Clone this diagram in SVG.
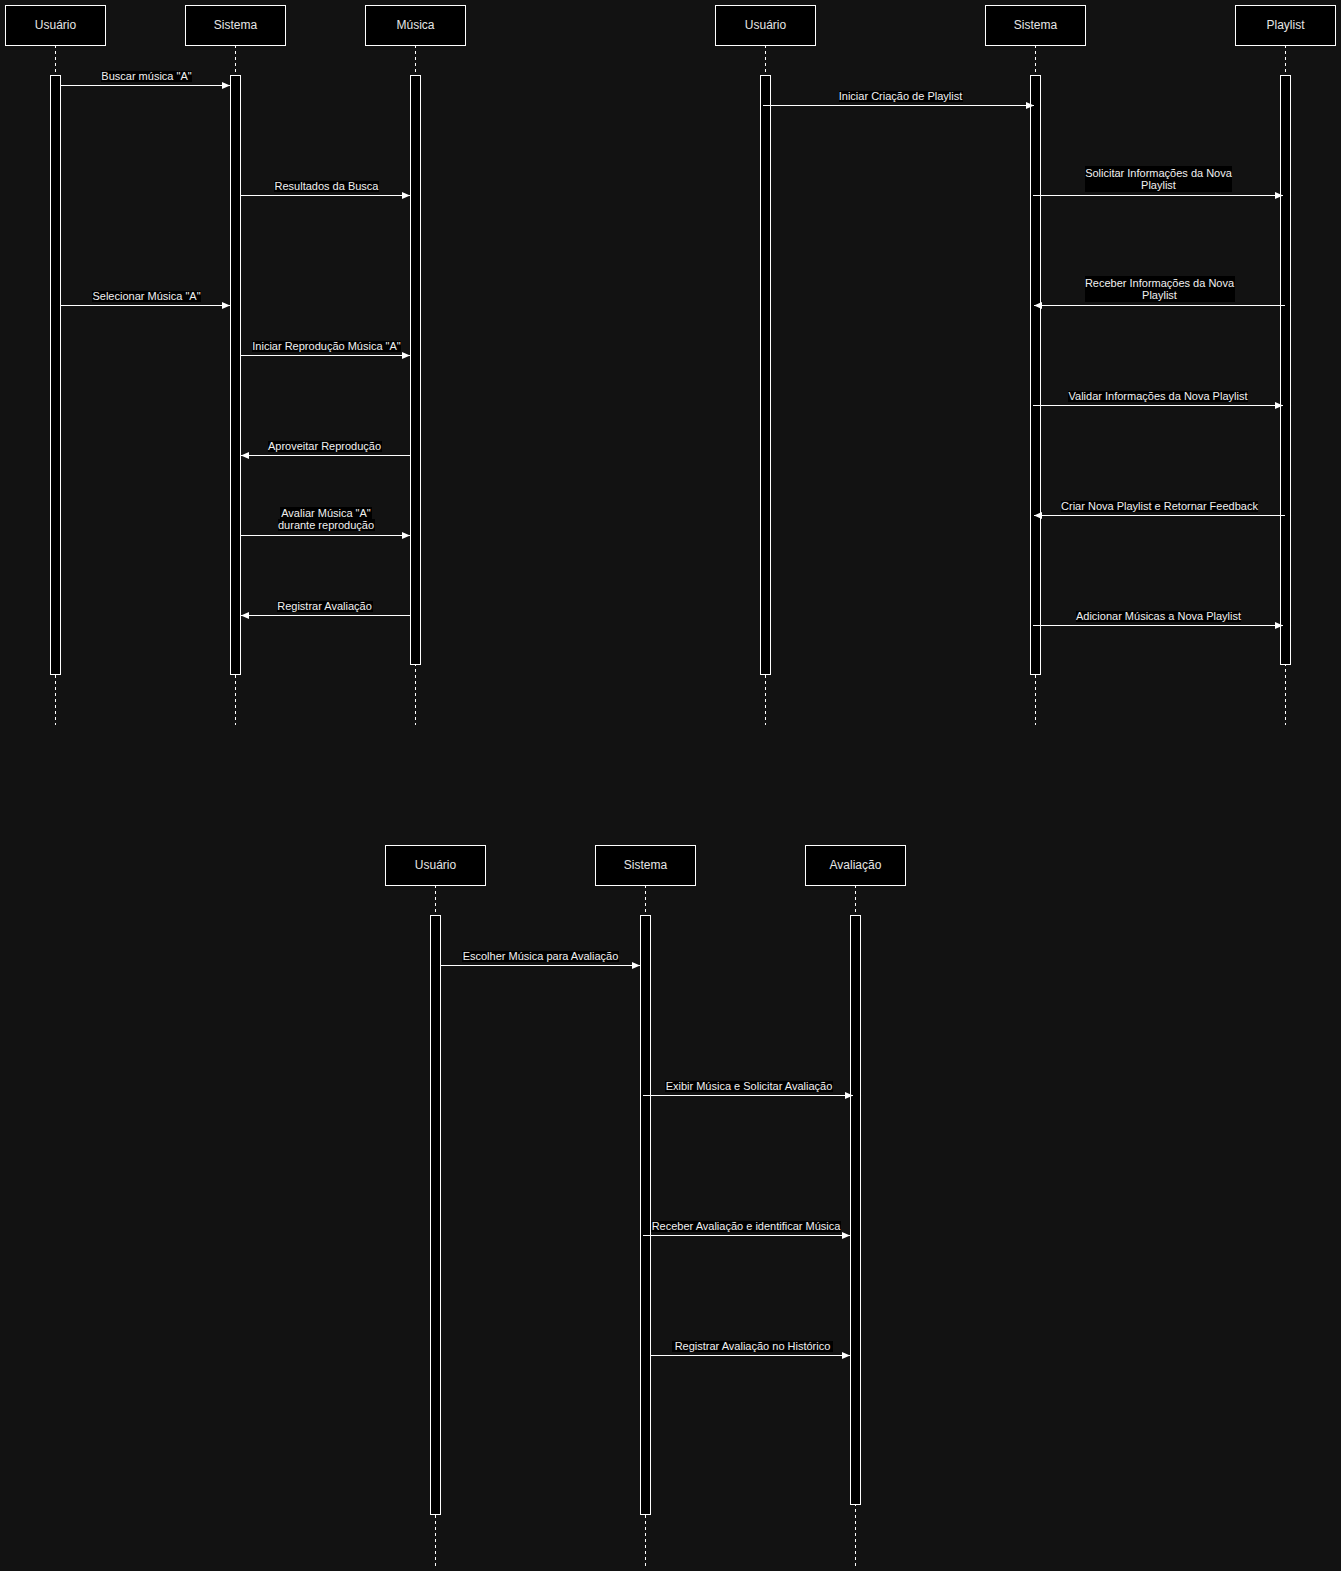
<svg xmlns="http://www.w3.org/2000/svg" width="1341" height="1571" viewBox="0 0 1341 1571">
<defs>
<style>
.hd{fill:#000;stroke:#fff;stroke-width:1}
.ht{font-family:"Liberation Sans",Arial,sans-serif;font-size:12px;fill:#e6e6e6;text-anchor:middle}
.ll{stroke:#fff;stroke-width:1;stroke-dasharray:3,3;fill:none}
.act{fill:#000;stroke:#fff;stroke-width:1}
.msg{stroke:#fff;stroke-width:1;fill:none;marker-end:url(#ah)}
.lb{fill:#000}
.lt{font-family:"Liberation Sans",Arial,sans-serif;font-size:11px;fill:#f0f0f0;text-anchor:middle}
</style>
<marker id="ah" markerWidth="9" markerHeight="8" refX="8" refY="4" orient="auto" markerUnits="userSpaceOnUse">
<path d="M0,0.5 L8,4 L0,7.5 Z" fill="#fff"/>
</marker>
</defs>
<rect x="0" y="0" width="1341" height="1571" fill="#121212"/>

<!-- Diagram 1 -->
<g id="d1-usuario">
<line class="ll" x1="55.5" y1="45" x2="55.5" y2="725"/>
<rect class="hd" x="5.5" y="5.5" width="100" height="40"/>
<text class="ht" x="55.5" y="28.5">Usuário</text>
<rect class="act" x="50.5" y="75.5" width="10" height="599"/>
</g>
<g id="d1-sistema">
<line class="ll" x1="235.5" y1="45" x2="235.5" y2="725"/>
<rect class="hd" x="185.5" y="5.5" width="100" height="40"/>
<text class="ht" x="235.5" y="28.5">Sistema</text>
<rect class="act" x="230.5" y="75.5" width="10" height="599"/>
</g>
<g id="d1-musica">
<line class="ll" x1="415.5" y1="45" x2="415.5" y2="725"/>
<rect class="hd" x="365.5" y="5.5" width="100" height="40"/>
<text class="ht" x="415.5" y="28.5">Música</text>
<rect class="act" x="410.5" y="75.5" width="10" height="589"/>
</g>

<!-- Diagram 2 -->
<g id="d2-usuario">
<line class="ll" x1="765.5" y1="45" x2="765.5" y2="725"/>
<rect class="hd" x="715.5" y="5.5" width="100" height="40"/>
<text class="ht" x="765.5" y="28.5">Usuário</text>
<rect class="act" x="760.5" y="75.5" width="10" height="599"/>
</g>
<g id="d2-sistema">
<line class="ll" x1="1035.5" y1="45" x2="1035.5" y2="725"/>
<rect class="hd" x="985.5" y="5.5" width="100" height="40"/>
<text class="ht" x="1035.5" y="28.5">Sistema</text>
<rect class="act" x="1030.5" y="75.5" width="10" height="599"/>
</g>
<g id="d2-playlist">
<line class="ll" x1="1285.5" y1="45" x2="1285.5" y2="725"/>
<rect class="hd" x="1235.5" y="5.5" width="100" height="40"/>
<text class="ht" x="1285.5" y="28.5">Playlist</text>
<rect class="act" x="1280.5" y="75.5" width="10" height="589"/>
</g>

<!-- Diagram 3 -->
<g id="d3-usuario">
<line class="ll" x1="435.5" y1="885" x2="435.5" y2="1566"/>
<rect class="hd" x="385.5" y="845.5" width="100" height="40"/>
<text class="ht" x="435.5" y="868.5">Usuário</text>
<rect class="act" x="430.5" y="915.5" width="10" height="599"/>
</g>
<g id="d3-sistema">
<line class="ll" x1="645.5" y1="885" x2="645.5" y2="1566"/>
<rect class="hd" x="595.5" y="845.5" width="100" height="40"/>
<text class="ht" x="645.5" y="868.5">Sistema</text>
<rect class="act" x="640.5" y="915.5" width="10" height="599"/>
</g>
<g id="d3-avaliacao">
<line class="ll" x1="855.5" y1="885" x2="855.5" y2="1566"/>
<rect class="hd" x="805.5" y="845.5" width="100" height="40"/>
<text class="ht" x="855.5" y="868.5">Avaliação</text>
<rect class="act" x="850.5" y="915.5" width="10" height="589"/>
</g>

<g id="connectors">
<!-- Diagram 1 -->
<line class="msg" x1="61" y1="85.5" x2="230" y2="85.5"/>
<rect class="lb" x="101" y="71" width="91" height="11"/>
<text class="lt" x="146.5" y="79.5">Buscar música "A"</text>

<line class="msg" x1="241" y1="195.5" x2="410" y2="195.5"/>
<rect class="lb" x="274" y="181" width="105" height="11"/>
<text class="lt" x="326.5" y="189.5">Resultados da Busca</text>

<line class="msg" x1="61" y1="305.5" x2="230" y2="305.5"/>
<rect class="lb" x="92" y="291" width="109" height="11"/>
<text class="lt" x="146.5" y="299.5">Selecionar Música "A"</text>

<line class="msg" x1="241" y1="355.5" x2="410" y2="355.5"/>
<rect class="lb" x="252" y="341" width="149" height="11"/>
<text class="lt" x="326.5" y="349.5">Iniciar Reprodução Música "A"</text>

<line class="msg" x1="410" y1="455.5" x2="241" y2="455.5"/>
<rect class="lb" x="268" y="441" width="114" height="11"/>
<text class="lt" x="324.5" y="449.5">Aproveitar Reprodução</text>

<line class="msg" x1="241" y1="535.5" x2="410" y2="535.5"/>
<rect class="lb" x="280" y="507" width="92" height="12"/>
<rect class="lb" x="278" y="519" width="97" height="12"/>
<text class="lt" x="326" y="516.5">Avaliar Música "A"</text>
<text class="lt" x="326" y="529">durante reprodução</text>

<line class="msg" x1="410" y1="615.5" x2="241" y2="615.5"/>
<rect class="lb" x="277" y="601" width="96" height="11"/>
<text class="lt" x="324.5" y="609.5">Registrar Avaliação</text>

<!-- Diagram 2 -->
<line class="msg" x1="763" y1="105.5" x2="1034" y2="105.5"/>
<rect class="lb" x="839" y="91" width="124" height="11"/>
<text class="lt" x="900.5" y="99.5">Iniciar Criação de Playlist</text>

<line class="msg" x1="1033" y1="195.5" x2="1283" y2="195.5"/>
<rect class="lb" x="1085" y="166" width="147" height="26"/>
<text class="lt" x="1158.5" y="176.5">Solicitar Informações da Nova</text>
<text class="lt" x="1158.5" y="189">Playlist</text>

<line class="msg" x1="1285" y1="305.5" x2="1034" y2="305.5"/>
<rect class="lb" x="1085" y="276" width="150" height="26"/>
<text class="lt" x="1159.5" y="286.5">Receber Informações da Nova</text>
<text class="lt" x="1159.5" y="299">Playlist</text>

<line class="msg" x1="1033" y1="405.5" x2="1283" y2="405.5"/>
<rect class="lb" x="1068" y="391" width="180" height="11"/>
<text class="lt" x="1158" y="399.5">Validar Informações da Nova Playlist</text>

<line class="msg" x1="1285" y1="515.5" x2="1034" y2="515.5"/>
<rect class="lb" x="1061" y="501" width="197" height="11"/>
<text class="lt" x="1159.5" y="509.5">Criar Nova Playlist e Retornar Feedback</text>

<line class="msg" x1="1033" y1="625.5" x2="1283" y2="625.5"/>
<rect class="lb" x="1076" y="611" width="165" height="11"/>
<text class="lt" x="1158.5" y="619.5">Adicionar Músicas a Nova Playlist</text>

<!-- Diagram 3 -->
<line class="msg" x1="441" y1="965.5" x2="640" y2="965.5"/>
<rect class="lb" x="462" y="951" width="157" height="11"/>
<text class="lt" x="540.5" y="959.5">Escolher Música para Avaliação</text>

<line class="msg" x1="643" y1="1095.5" x2="853" y2="1095.5"/>
<rect class="lb" x="665" y="1081" width="168" height="11"/>
<text class="lt" x="749" y="1089.5">Exibir Música e Solicitar Avaliação</text>

<line class="msg" x1="643" y1="1235.5" x2="850" y2="1235.5"/>
<rect class="lb" x="651" y="1221" width="190" height="11"/>
<text class="lt" x="746" y="1229.5">Receber Avaliação e identificar Música</text>

<line class="msg" x1="651" y1="1355.5" x2="850" y2="1355.5"/>
<rect class="lb" x="672" y="1341" width="161" height="11"/>
<text class="lt" x="752.5" y="1349.5">Registrar Avaliação no Histórico</text>
</g>
</svg>
